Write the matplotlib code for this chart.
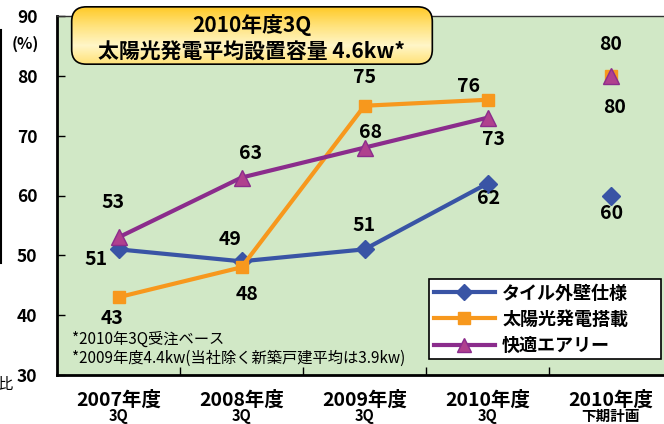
import matplotlib
matplotlib.use("Agg")
import matplotlib.pyplot as plt
from matplotlib.patches import FancyBboxPatch
from matplotlib.lines import Line2D
from matplotlib.colors import LinearSegmentedColormap
import numpy as np

plt.rcParams['font.family'] = ['Noto Sans CJK JP', 'DejaVu Sans']

# data
categories = ["2007年度", "2008年度", "2009年度", "2010年度", "2010年度"]
sub_labels = ["3Q", "3Q", "3Q", "3Q", "下期計画"]
series_names = ["タイル外壁仕様", "太陽光発電搭載", "快適エアリー"]
tile = [51, 49, 51, 62, 60]
solar = [43, 48, 75, 76, 80]
comfort = [53, 63, 68, 73, 80]
yticks = [30, 40, 50, 60, 70, 80, 90]

# label offsets in pixels (dx, dy) for each point
tile_off = [(-22, -10), (-11, 22), (0, 24), (1, -15), (1, -18)]
solar_off = [(-6, -21), (6, -27), (0, 28), (-19, 13), (0, 31)]
comfort_off = [(-5, 35), (9, 24), (6, 15), (6, -22), (4, -32)]

BLUE = "#3954A5"
ORANGE = "#F7981D"
PURPLE = "#8B2C8C"
PURPLE_FILL = "#B0408E"
BG = "#D1E8C6"

W, H = 664, 424
fig = plt.figure(figsize=(W / 100, H / 100), dpi=100)

def px(x0, y0, x1, y1):
    # figure pixel box -> axes rect
    return [x0 / W, 1 - y1 / H, (x1 - x0) / W, (y1 - y0) / H]

ax = fig.add_axes(px(57, 16, 672, 375))
ax.set_facecolor(BG)
x = np.arange(len(categories))

styles = [
    (tile, tile_off, BLUE, "D", BLUE, BLUE, 9),
    (solar, solar_off, ORANGE, "s", ORANGE, ORANGE, 9),
    (comfort, comfort_off, PURPLE, "^", PURPLE_FILL, PURPLE, 11),
]
handles = []
for vals, offs, col, mk, fc, ec, ms in styles:
    ax.plot(x[:4], vals[:4], color=col, lw=3, marker=mk, ms=ms,
            mfc=fc, mec=ec, zorder=3)
    ax.plot(x[4:], vals[4:], ls="none", marker=mk, ms=ms, mfc=fc, mec=ec, zorder=3)
    handles.append(Line2D([], [], color=col, lw=3, marker=mk, ms=ms - 1, mfc=fc, mec=ec))
    for xi, v, (dx, dy) in zip(x, vals, offs):
        ax.annotate(str(v), (xi, v), xytext=(dx, dy), textcoords="offset pixels",
                    ha="center", va="center", fontsize=14, fontweight="bold",
                    color="black", zorder=5)

ax.set_xlim(-0.5, 4.5)
ax.set_ylim(30, 90)
ax.set_yticks(yticks)
ax.set_yticklabels([str(t) for t in yticks], fontsize=12.5, fontweight="bold")
ax.set_xticks([0.5, 1.5, 2.5, 3.5])
ax.set_xticklabels([])
ax.tick_params(axis="both", direction="in", length=6, width=1, colors="black")
ax.tick_params(axis="y", pad=14)
for s in ["left", "bottom"]:
    ax.spines[s].set_linewidth(2)
ax.spines["top"].set_linewidth(1)
ax.spines["top"].set_color("#333333")

for xi, c, s in zip(x, categories, sub_labels):
    ax.text(xi, -0.07, c, transform=ax.get_xaxis_transform(), ha="center",
            va="center", fontsize=14, fontweight="bold")
    ax.text(xi, -0.115, s, transform=ax.get_xaxis_transform(), ha="center",
            va="center", fontsize=10.5, fontweight="bold")

fig.text(25 / W, 1 - 44 / H, "(%)", ha="center", va="center", fontsize=11.5, fontweight="bold")

# footnotes
fig.text(72 / W, 1 - 339 / H, "*2010年3Q受注ベース", ha="left", va="center", fontsize=11)
fig.text(72 / W, 1 - 358 / H, "*2009年度4.4kw(当社除く新築戸建平均は3.9kw)",
         ha="left", va="center", fontsize=11)

# cropped leftovers at the left edge
fig.add_artist(Line2D([1 / W, 1 / W], [1 - 30 / H, 1 - 263 / H], color="black", lw=1.5))
fig.text(-3 / W, 1 - 384 / H, "比", ha="left", va="center", fontsize=11)

# legend
leg = ax.legend(handles, series_names, loc="upper left",
                bbox_to_anchor=(429 / W, 1 - 364 / H, 232 / W, 85 / H),
                bbox_transform=fig.transFigure, mode="expand",
                frameon=True, fancybox=False, handlelength=3.4,
                prop={"size": 13, "weight": "bold"}, borderaxespad=0,
                labelspacing=0.4, handletextpad=0.4, borderpad=0.25)
leg.get_frame().set_edgecolor("black")
leg.get_frame().set_linewidth(1.2)
leg.get_frame().set_facecolor("white")
leg.get_frame().set_alpha(1)

# title box with gradient
tax = fig.add_axes(px(68, 5, 436, 66))
tax.set_xlim(0, 1)
tax.set_ylim(0, 1)
tax.axis("off")
box = FancyBboxPatch((0.01, 0.03), 0.98, 0.94, boxstyle="round,pad=0,rounding_size=0.04",
                     mutation_aspect=6, transform=tax.transAxes, fc="none",
                     ec="black", lw=1.2, zorder=3)
tax.add_patch(box)
grad = np.linspace(0, 1, 100).reshape(-1, 1)
cmap = LinearSegmentedColormap.from_list("g", ["#FFC820", "#FFE27A", "#FFF6C8", "#FFE070"])
img = tax.imshow(grad, extent=(0, 1, 0, 1), aspect="auto", cmap=cmap, origin="upper", zorder=1)
img.set_clip_path(box)
tax.text(0.5, 0.67, "2010年度3Q", ha="center", va="center", fontsize=15,
         fontweight="bold", zorder=4)
tax.text(0.5, 0.22, "太陽光発電平均設置容量 4.6kw*", ha="center", va="center",
         fontsize=15, fontweight="bold", zorder=4)

fig.savefig("out.png", dpi=100)
